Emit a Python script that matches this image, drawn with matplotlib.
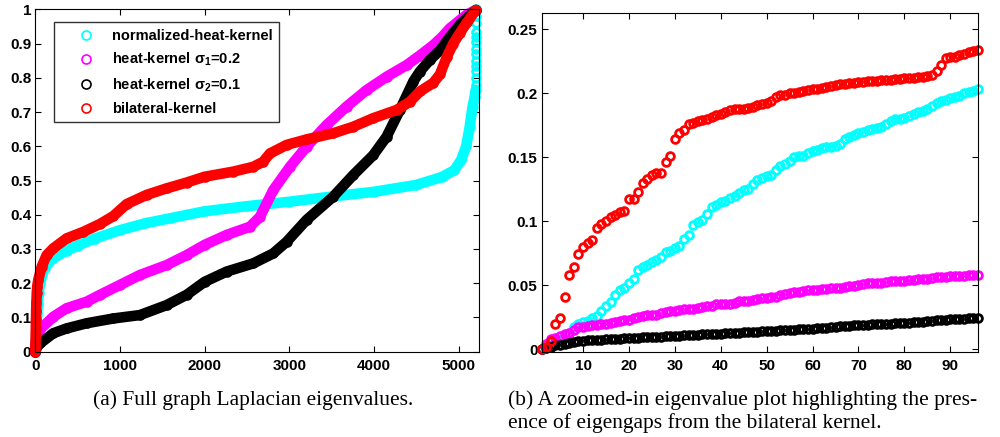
import matplotlib
matplotlib.use('Agg')
import matplotlib.pyplot as plt
from matplotlib.lines import Line2D
from matplotlib.ticker import FormatStrFormatter

plt.rcParams['font.family'] = 'Liberation Sans'
plt.rcParams['font.weight'] = 'bold'
plt.rcParams['mathtext.fontset'] = 'custom'
plt.rcParams['mathtext.rm'] = 'Liberation Sans:bold'
plt.rcParams['mathtext.it'] = 'Liberation Sans:bold'
plt.rcParams['mathtext.bf'] = 'Liberation Sans:bold'

labels = ['normalized-heat-kernel', 'heat-kernel σ$_1$=0.2',
          'heat-kernel σ$_2$=0.1', 'bilateral-kernel']
colors = ['cyan', 'magenta', 'black', 'red']

# ---- (a) full spectrum, values read at sample eigenvalue indices
norm_idx = [0, 4, 8, 12, 16, 22, 30, 40, 55, 80, 110, 150, 200, 270, 370, 500,
            700, 1000, 1300, 1600, 2000, 2500, 3000, 3500, 4000, 4500, 4800,
            4950, 5030, 5090, 5130, 5165, 5190, 5203, 5203, 5203, 5203, 5203,
            5203, 5203, 5203, 5203, 5203, 5203, 5203, 5203, 5203]
norm_val = [0, 0.02, 0.04, 0.06, 0.08, 0.11, 0.14, 0.17, 0.2, 0.225, 0.245,
            0.26, 0.272, 0.283, 0.295, 0.31, 0.33, 0.355, 0.375, 0.39, 0.41,
            0.425, 0.438, 0.453, 0.467, 0.487, 0.51, 0.53, 0.56, 0.6, 0.655,
            0.715, 0.745, 0.765, 0.78, 0.8, 0.82, 0.835, 0.85, 0.87, 0.885,
            0.905, 0.92, 0.935, 0.96, 0.98, 1.0]

heat1_idx = [0, 5, 15, 55, 213, 370, 606, 764, 1000, 1236, 1551, 1787, 2000,
             2260, 2535, 2654, 2811, 3008, 3205, 3441, 3677, 3913, 4150, 4386,
             4542, 4700, 4800, 4900, 5014, 5100, 5205]
heat1_val = [0, 0.025, 0.045, 0.065, 0.102, 0.127, 0.146, 0.166, 0.195, 0.224,
             0.253, 0.282, 0.312, 0.341, 0.365, 0.394, 0.472, 0.54, 0.599,
             0.662, 0.716, 0.764, 0.803, 0.837, 0.865, 0.895, 0.918, 0.945,
             0.968, 0.985, 0.998]

heat2_idx = [0, 10, 55, 213, 370, 606, 921, 1236, 1551, 1787, 2000, 2260, 2575,
             2811, 2969, 3205, 3520, 3756, 3992, 4150, 4307, 4465, 4542, 4661,
             4780, 4900, 5014, 5100, 5205]
heat2_val = [0, 0.01, 0.024, 0.054, 0.068, 0.083, 0.097, 0.107, 0.136, 0.166,
             0.204, 0.234, 0.258, 0.287, 0.321, 0.385, 0.453, 0.516, 0.574,
             0.628, 0.706, 0.789, 0.818, 0.852, 0.88, 0.92, 0.955, 0.975, 0.998]

bilat_idx = [0, 2, 4, 6, 8, 10, 13, 17, 22, 35, 75, 134, 213, 370, 567, 764,
             921, 1079, 1315, 1551, 1787, 2000, 2339, 2575, 2693, 2772, 2969,
             3205, 3520, 3756, 3992, 4268, 4425, 4543, 4701, 4780, 4860, 4937,
             5014, 5100, 5205]
bilat_val = [0, 0.02, 0.045, 0.07, 0.095, 0.12, 0.145, 0.17, 0.19, 0.21, 0.248,
             0.282, 0.302, 0.331, 0.35, 0.373, 0.396, 0.431, 0.458, 0.477,
             0.494, 0.511, 0.526, 0.54, 0.555, 0.579, 0.604, 0.62, 0.638,
             0.657, 0.682, 0.706, 0.73, 0.76, 0.785, 0.81, 0.86, 0.9, 0.93,
             0.962, 0.998]

# ---- (b) first 96 eigenvalues
k = list(range(1, 97))
z_norm = [0.000, 0.0005, 0.002, 0.004, 0.007, 0.010, 0.013, 0.017, 0.0195, 0.021,
          0.022, 0.024, 0.026, 0.030, 0.034, 0.037, 0.042, 0.046, 0.048, 0.052,
          0.055, 0.062, 0.064, 0.066, 0.068, 0.070, 0.072, 0.076, 0.077, 0.079,
          0.081, 0.086, 0.089, 0.097, 0.099, 0.101, 0.106, 0.111, 0.113, 0.115,
          0.116, 0.118, 0.120, 0.122, 0.124, 0.125, 0.129, 0.132, 0.134, 0.135,
          0.136, 0.140, 0.143, 0.145, 0.147, 0.150, 0.151, 0.151, 0.153, 0.155,
          0.156, 0.157, 0.158, 0.158, 0.159, 0.160, 0.164, 0.166, 0.167, 0.169,
          0.170, 0.171, 0.172, 0.173, 0.174, 0.176, 0.178, 0.180, 0.180, 0.181,
          0.182, 0.184, 0.185, 0.186, 0.188, 0.190, 0.192, 0.194, 0.195, 0.196,
          0.197, 0.198, 0.200, 0.201, 0.202, 0.203]
z_heat1 = [0.000, 0.004, 0.008, 0.009, 0.010, 0.012, 0.013, 0.015, 0.017, 0.0175,
           0.018, 0.0185, 0.019, 0.0195, 0.020, 0.0205, 0.021, 0.022, 0.0225, 0.023,
           0.024, 0.025, 0.026, 0.0265, 0.027, 0.027, 0.028, 0.029, 0.0295, 0.030,
           0.0305, 0.031, 0.031, 0.0315, 0.032, 0.033, 0.0335, 0.034, 0.035, 0.035,
           0.035, 0.0355, 0.036, 0.0375, 0.038, 0.038, 0.0385, 0.039, 0.040, 0.040,
           0.0405, 0.041, 0.042, 0.043, 0.044, 0.0445, 0.045, 0.0455, 0.046, 0.046,
           0.0465, 0.047, 0.047, 0.0475, 0.048, 0.048, 0.0485, 0.049, 0.049, 0.050,
           0.051, 0.0515, 0.052, 0.052, 0.052, 0.0525, 0.053, 0.053, 0.0535, 0.0535,
           0.054, 0.054, 0.0545, 0.055, 0.055, 0.0555, 0.056, 0.056, 0.0565, 0.057,
           0.057, 0.0573, 0.0575, 0.0578, 0.058, 0.058]
z_heat2 = [0.000, 0.001, 0.002, 0.003, 0.0035, 0.004, 0.005, 0.0055, 0.006, 0.0065,
           0.0068, 0.007, 0.0072, 0.0074, 0.0076, 0.0078, 0.008, 0.0082, 0.0084, 0.0086,
           0.0088, 0.009, 0.0092, 0.0093, 0.0095, 0.0097, 0.0098, 0.010, 0.0102, 0.0104,
           0.0106, 0.0108, 0.011, 0.0112, 0.0113, 0.0115, 0.0117, 0.0119, 0.012, 0.0122,
           0.0124, 0.0126, 0.0128, 0.013, 0.0132, 0.0134, 0.0135, 0.0137, 0.0139, 0.0141,
           0.0143, 0.0145, 0.0147, 0.0149, 0.015, 0.0152, 0.0154, 0.0156, 0.0158, 0.016,
           0.0163, 0.0166, 0.0169, 0.0172, 0.0175, 0.0178, 0.018, 0.0182, 0.0185, 0.0188,
           0.019, 0.0192, 0.0194, 0.0196, 0.0197, 0.0198, 0.020, 0.0202, 0.0204, 0.0206,
           0.0208, 0.021, 0.0213, 0.0216, 0.0219, 0.0222, 0.0225, 0.0228, 0.023, 0.0232,
           0.0234, 0.0236, 0.0238, 0.024, 0.0242, 0.0245]
z_bilat = [0.000, 0.002, 0.0065, 0.020, 0.024, 0.041, 0.058, 0.064, 0.074, 0.080,
           0.083, 0.085, 0.0945, 0.098, 0.1005, 0.103, 0.105, 0.107, 0.108, 0.117,
           0.117, 0.123, 0.130, 0.133, 0.136, 0.1375, 0.138, 0.1466, 0.151, 0.164,
           0.169, 0.171, 0.176, 0.177, 0.178, 0.179, 0.180, 0.1817, 0.183, 0.184,
           0.1857, 0.187, 0.1875, 0.188, 0.188, 0.1888, 0.1895, 0.191, 0.1916, 0.1927,
           0.194, 0.1974, 0.1985, 0.199, 0.200, 0.2005, 0.201, 0.2017, 0.2025, 0.203,
           0.2035, 0.204, 0.2045, 0.2055, 0.2065, 0.207, 0.2075, 0.208, 0.2083, 0.2087,
           0.209, 0.2093, 0.2095, 0.2098, 0.210, 0.2103, 0.2106, 0.211, 0.2113, 0.2117,
           0.212, 0.2123, 0.2127, 0.213, 0.2135, 0.2143, 0.217, 0.222, 0.2273, 0.228,
           0.2286, 0.2298, 0.231, 0.2322, 0.233, 0.2335]

full_x = [norm_idx, heat1_idx, heat2_idx, bilat_idx]
full_y = [norm_val, heat1_val, heat2_val, bilat_val]
zoom_y = [z_norm, z_heat1, z_heat2, z_bilat]

fig = plt.figure(figsize=(10, 4.37), dpi=100)
ax1 = fig.add_axes([0.0353, 0.1952, 0.444, 0.7835])
ax2 = fig.add_axes([0.5417, 0.1952, 0.4366, 0.7744])

ms, mew = 5.6, 2.0
for xs, ys, c in zip(full_x, full_y, colors):
    # dense band up to the last index; stacked top values stay as open rings
    n = xs.index(max(xs)) + 1
    ax1.plot(xs[:n], ys[:n], '-', color=c, lw=7.6, solid_capstyle='round',
             solid_joinstyle='round', clip_on=False)
    ax1.plot(xs, ys, 'o', mfc='none', mec=c, ms=ms, mew=mew, clip_on=False)

for ys, c in zip(zoom_y, colors):
    ax2.plot(k, ys, 'o', mfc='none', mec=c, ms=ms, mew=mew, clip_on=False)

ax1.set_xlim(0, 5245)
ax1.set_ylim(0, 1)
ax1.set_xticks([0, 1000, 2000, 3000, 4000, 5000])
ax1.set_yticks([i / 10 for i in range(11)])

ax2.set_xlim(1, 96.1)
ax2.set_ylim(-0.002, 0.2625)
ax2.set_xticks(range(10, 91, 10))
ax2.set_yticks([0, 0.05, 0.1, 0.15, 0.2, 0.25])

for ax in (ax1, ax2):
    ax.yaxis.set_major_formatter(FormatStrFormatter('%g'))
    ax.tick_params(direction='in', top=True, right=True, length=4, width=0.8,
                   labelsize=11)
    ax.tick_params(axis='x', pad=5)
    ax.tick_params(axis='y', pad=3)
    for s in ax.spines.values():
        s.set_linewidth(0.8)

handles = [Line2D([], [], ls='none', marker='o', mfc='none', mec=c, ms=6.5, mew=1.2)
           for c in colors]
leg = ax1.legend(handles, labels, loc='upper left', bbox_to_anchor=(0.042, 0.962),
                 borderaxespad=0, fontsize=10.5, frameon=True, fancybox=False,
                 edgecolor='black', handlelength=3.5, handletextpad=0.05,
                 borderpad=0.45, labelspacing=0.55)
leg.get_frame().set_linewidth(1.0)

fig.text(0.253, 0.0732, '(a) Full graph Laplacian eigenvalues.',
         family='Liberation Serif', weight='normal', fontsize=15.5,
         ha='center', va='baseline')
fig.text(0.508, 0.0732,
         '(b) A zoomed-in eigenvalue plot highlighting the pres-',
         family='Liberation Serif', weight='normal', fontsize=15.5,
         ha='left', va='baseline')
fig.text(0.508, 0.0206, 'ence of eigengaps from the bilateral kernel.',
         family='Liberation Serif', weight='normal', fontsize=15.5,
         ha='left', va='baseline')

fig.savefig('out.png', dpi=100)
